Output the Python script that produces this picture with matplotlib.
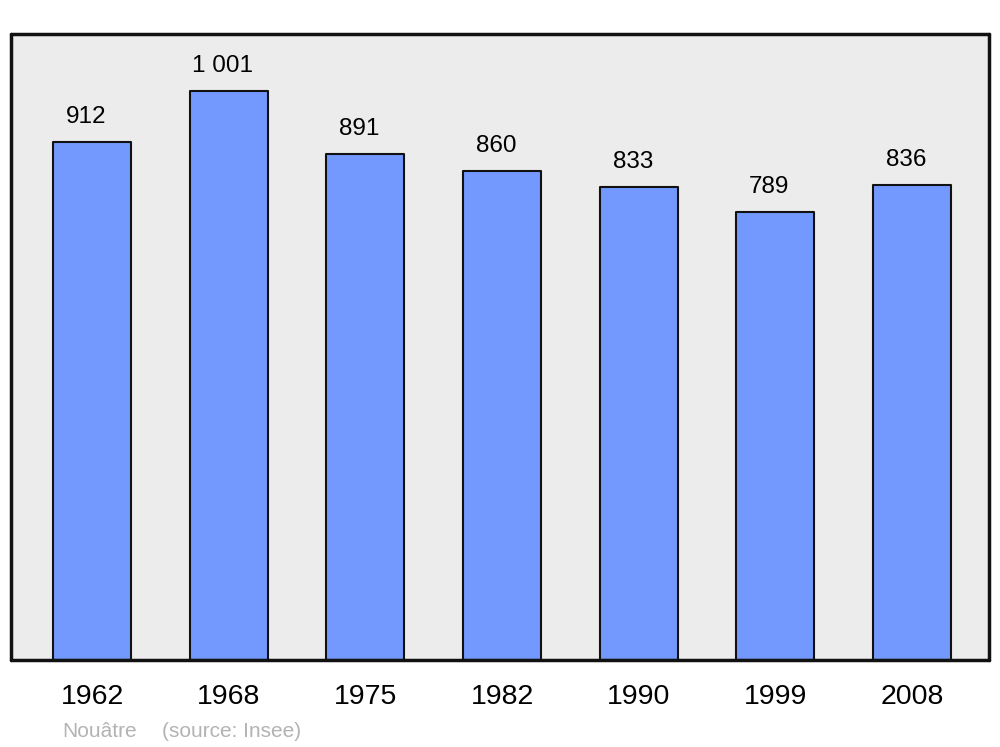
import matplotlib.pyplot as plt

annees = ["1962", "1968", "1975", "1982", "1990", "1999", "2008"]
population = [912, 1001, 891, 860, 833, 789, 836]
commune = "Nouâtre"
source = "(source: Insee)"

plt.rcParams['font.family'] = ['Liberation Sans', 'DejaVu Sans']

fig = plt.figure(figsize=(10, 7.47), dpi=100)
ax = fig.add_axes([0.011, 1 - 660 / 747, 0.978, (660 - 34) / 747])
ax.set_facecolor('#ececec')

x = range(len(annees))
barres = ax.bar(x, population, width=0.571, color='#7399ff',
                edgecolor='#111111', linewidth=1.5)
for b in barres:
    b.set_joinstyle('round')

# les étiquettes sont un peu décalées vers la gauche dans l'original
for xi, v in zip(x, population):
    etiquette = f"{v:,}".replace(",", " ")
    ax.annotate(etiquette, (xi, v), xytext=(-6, 19), textcoords='offset pixels',
                ha='center', va='baseline', fontsize=17.5)

ax.set_xlim(-0.593, 6.563)
ax.set_ylim(0, 1102)
ax.set_xticks(list(x))
ax.set_xticklabels(annees, fontsize=20.5)
ax.tick_params(axis='x', length=0, pad=17)
for lab in ax.get_xticklabels():
    lab.set_x(lab.get_position()[0])
ax.set_yticks([])

for s in ax.spines.values():
    s.set_linewidth(2.5)
    s.set_color('#111111')
    s.set_capstyle('round')

fig.text(0.062, 1 - 737 / 747, commune, color='#b3b3b3', fontsize=15, va='baseline')
fig.text(0.162, 1 - 737 / 747, source, color='#b3b3b3', fontsize=15, va='baseline')

fig.savefig('out.png', dpi=100)
